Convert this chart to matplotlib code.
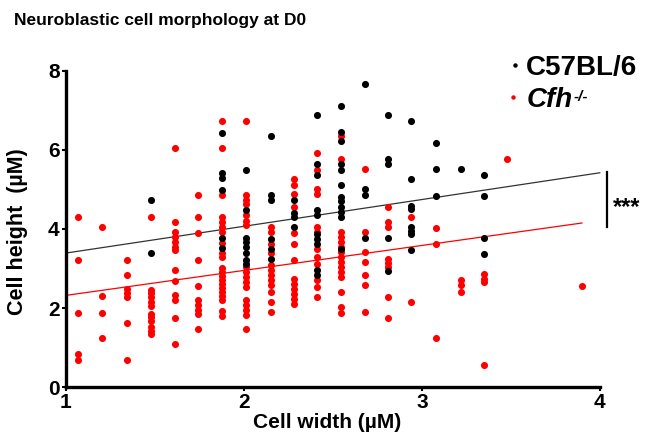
import matplotlib
matplotlib.use('Agg')
import matplotlib.pyplot as plt
from matplotlib.lines import Line2D
import numpy as np

plt.rcParams['font.family'] = ['Liberation Sans', 'DejaVu Sans']
plt.rcParams['font.weight'] = 'bold'

# x position of each column of measurements (cell width, uM)
col_x = [1.07, 1.20, 1.345, 1.475, 1.61, 1.74, 1.875, 2.01, 2.15, 2.28,
         2.41, 2.545, 2.68, 2.81, 2.94, 3.08, 3.22, 3.35, 3.48, 3.90]

# C57BL/6 cell heights, one list per column
wt_y = [
    [], [], [],
    [4.72, 3.38],
    [], [],
    [6.43, 5.41, 5.28, 4.99, 3.78, 3.52],
    [5.50, 4.47, 3.78, 3.67, 3.54, 3.38, 3.22, 3.12],
    [6.34, 4.87, 4.72, 3.75, 3.50, 3.25],
    [4.72, 4.40, 4.30, 4.05],
    [6.87, 5.65, 5.37, 4.47, 4.36, 3.88, 3.75, 3.63, 2.95, 2.83],
    [7.12, 6.45, 6.22, 5.65, 5.50, 5.10, 4.82, 4.70, 4.55, 4.43, 4.30, 3.50],
    [7.67, 5.02, 4.85, 3.77],
    [6.87, 5.77, 5.65, 3.77, 2.94],
    [6.72, 5.25, 4.59, 4.51, 4.05, 3.96, 3.88, 3.48],
    [6.18, 5.51, 4.83],
    [5.51],
    [5.37, 4.83, 3.77, 3.37],
    [], [],
]

# Cfh-/- cell heights, one list per column
ko_y = [
    [4.30, 3.22, 1.88, 0.85, 0.68],
    [4.05, 2.30, 1.88, 1.23],
    [3.22, 2.83, 2.49, 2.37, 2.27, 1.61, 0.68],
    [4.30, 2.45, 2.37, 2.27, 2.16, 2.05, 1.86, 1.78, 1.68, 1.52, 1.42, 1.34],
    [6.05, 4.17, 3.92, 3.80, 3.67, 3.54, 3.46, 2.95, 2.68, 2.32, 2.20, 1.76, 1.09],
    [4.85, 4.30, 3.90, 3.22, 2.56, 2.20, 2.07, 1.96, 1.86, 1.48],
    [6.72, 6.04, 4.85, 4.30, 4.17, 4.05, 3.92, 3.65, 3.40, 3.28, 3.00, 2.90,
     2.80, 2.70, 2.60, 2.50, 2.40, 2.30, 2.20, 1.92, 1.80],
    [6.72, 4.85, 4.74, 4.62, 4.34, 4.21, 4.09, 3.04, 2.91, 2.79, 2.66, 2.53,
     2.20, 2.07, 1.94, 1.82, 1.48],
    [4.05, 3.92, 3.63, 3.38, 3.08, 2.95, 2.83, 2.70, 2.58, 2.41, 2.15, 1.90],
    [5.27, 5.10, 4.89, 4.55, 3.90, 3.63, 3.21, 2.74, 2.62, 2.49, 2.36, 2.24, 2.11],
    [5.92, 5.50, 5.01, 4.89, 4.05, 3.92, 3.50, 3.29, 3.12, 2.70, 2.53, 2.28],
    [6.34, 5.77, 3.92, 3.79, 3.67, 3.54, 3.42, 3.29, 3.16, 3.04, 2.91, 2.78,
     2.40, 2.02, 1.87],
    [5.52, 3.92, 3.42, 3.16, 2.83, 2.58, 1.90],
    [4.55, 4.17, 4.05, 3.25, 3.14, 3.04, 2.28, 1.75],
    [4.30, 2.15],
    [4.03, 3.63, 1.23],
    [2.70, 2.57, 2.40],
    [2.85, 2.74, 2.66, 0.56],
    [5.77],
    [2.56],
]

# regression lines (ends of each line)
wt_fit_x = [1.0, 4.0]
wt_fit_y = [3.39, 5.42]
ko_fit_x = [1.0, 3.9]
ko_fit_y = [2.32, 4.15]

RED = '#ff0000'
W, H = 647, 434


def expand(cols, vals):
    xs, ys = [], []
    for cx, col in zip(cols, vals):
        xs += [cx] * len(col)
        ys += col
    return np.array(xs), np.array(ys)


wt_px, wt_py = expand(col_x, wt_y)
ko_px, ko_py = expand(col_x, ko_y)

fig = plt.figure(figsize=(W / 100, H / 100), dpi=100)
ax = fig.add_axes([0.102, 0.108, 0.825, 0.729])

ax.scatter(ko_px, ko_py, s=26, color=RED, linewidths=0, zorder=3, clip_on=False)
ax.scatter(wt_px, wt_py, s=26, color='black', linewidths=0, zorder=3, clip_on=False)
ax.plot(wt_fit_x, wt_fit_y, color='#333333', lw=0.9, zorder=2, clip_on=False)
ax.plot(ko_fit_x, ko_fit_y, color=RED, lw=0.9, zorder=2, clip_on=False)

# significance bar
ax.plot([4.04, 4.04], [5.43, 4.04], color='black', lw=1.6, clip_on=False)
ax.text(4.075, 4.55, '***', fontsize=17, fontweight='bold', va='center', ha='left')

ax.set_xlim(1, 4)
ax.set_ylim(0, 8)
ax.set_xticks([1, 2, 3, 4])
ax.set_yticks([0, 2, 4, 6, 8])
ax.tick_params(labelsize=15, width=1.5, length=3, pad=1.5)
for sp in ['top', 'right']:
    ax.spines[sp].set_visible(False)
for sp in ['left', 'bottom']:
    ax.spines[sp].set_linewidth(2.4)

ax.set_xlabel('Cell width (µM)', fontsize=15, fontweight='bold')
ax.xaxis.set_label_coords(0.489, -0.082)
ax.set_ylabel('Cell height  (µM)', fontsize=15.5, fontweight='bold')
ax.yaxis.set_label_coords(-0.072, 0.49)

fig.text(14 / W, 1 - 20 / H, 'Neuroblastic cell morphology at D0',
         fontsize=12.5, fontweight='bold', va='center', ha='left')

# legend, placed by hand like the original
fig.add_artist(Line2D([515 / W], [1 - 65 / H], marker='o', ms=3.2, mew=0,
                      color='black', transform=fig.transFigure))
fig.add_artist(Line2D([513 / W], [1 - 97 / H], marker='o', ms=3.2, mew=0,
                      color=RED, transform=fig.transFigure))
fig.text(526 / W, 1 - 75 / H, 'C57BL/6', fontsize=20, fontweight='bold',
         va='baseline', ha='left')
cfh = fig.text(527 / W, 1 - 107 / H, 'Cfh', fontsize=20, fontweight='bold',
               style='italic', va='baseline', ha='left')

fig.canvas.draw()
bb = cfh.get_window_extent()
fig.text(bb.x1 / W + 0.001, bb.y1 / H - 0.008, '-/-',
         fontsize=11, fontweight='bold', style='italic', va='top', ha='left')

fig.savefig('out.png', dpi=100)
